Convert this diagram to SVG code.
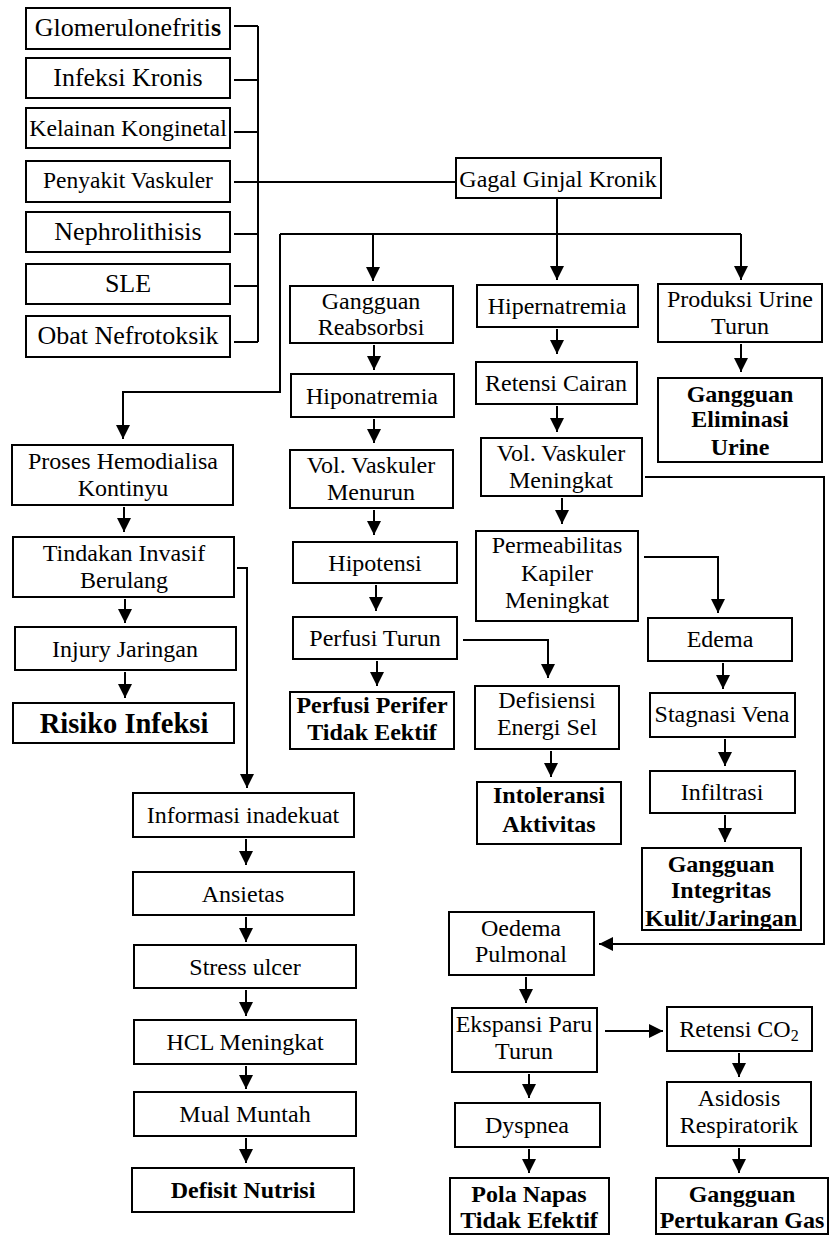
<svg xmlns="http://www.w3.org/2000/svg" width="832" height="1236" viewBox="0 0 832 1236">
<style>
.box{fill:#fff;stroke:#000;stroke-width:2}
.t{font-family:"Liberation Serif","Times New Roman",serif;font-size:24px;text-anchor:middle;fill:#000}
.l{font-size:26px}
.b{font-weight:bold}
.c{stroke:#000;stroke-width:2;fill:none}
.a{stroke:#000;stroke-width:2;fill:none;marker-end:url(#ah)}
</style>
<defs>
<marker id="ah" markerUnits="userSpaceOnUse" markerWidth="14" markerHeight="14" refX="14" refY="7" orient="auto">
<path d="M0,0 L14,7 L0,14 z" fill="#000"/>
</marker>
</defs>
<rect width="832" height="1236" fill="#fff"/>
<g id="connectors">
<path class="c" d="M234,26 H258 M234,80 H258 M234,132 H258 M234,182 H258 M234,234 H258 M234,286 H258 M234,342 H258 M258,26 V342 M258,182 H456"/>
<path class="a" d="M557,198 V280"/>
<path class="c" d="M280,234 H741"/>
<path class="a" d="M741,234 V280"/>
<path class="a" d="M373,234 V281"/>
<path class="a" d="M280,234 V392 H123 V439"/>
<path class="a" d="M374,345 V370"/>
<path class="a" d="M374,419 V443"/>
<path class="a" d="M374,510 V535"/>
<path class="a" d="M376,585 V611"/>
<path class="a" d="M377,661 V686"/>
<path class="a" d="M463,640 H548 V678"/>
<path class="a" d="M557,329 V354"/>
<path class="a" d="M557,406 V432"/>
<path class="a" d="M562,498 V524"/>
<path class="a" d="M644,557 H718 V613"/>
<path class="a" d="M723,663 V689"/>
<path class="a" d="M725,739 V766"/>
<path class="a" d="M725,815 V842"/>
<path class="a" d="M551,751 V777"/>
<path class="a" d="M741,344 V372"/>
<path class="a" d="M645,477 H824 V944 H599"/>
<path class="a" d="M526,977 V1003"/>
<path class="a" d="M605,1031 H663"/>
<path class="a" d="M739,1053 V1077"/>
<path class="a" d="M739,1148 V1173"/>
<path class="a" d="M529,1074 V1098"/>
<path class="a" d="M529,1149 V1173"/>
<path class="a" d="M124,507 V532"/>
<path class="a" d="M125,599 V623"/>
<path class="a" d="M125,672 V698"/>
<path class="a" d="M237,568 H247 V788"/>
<path class="a" d="M246,839 V865"/>
<path class="a" d="M246,917 V942"/>
<path class="a" d="M246,990 V1016"/>
<path class="a" d="M246,1066 V1089"/>
<path class="a" d="M246,1138 V1163"/>
</g>
<g id="n-glomerulonefritis"><rect class="box" x="26" y="8" width="204" height="41"/><text class="t l" x="128" y="36">Glomerulonefriti<tspan class="b">s</tspan></text></g>
<g id="n-infeksi-kronis"><rect class="box" x="26" y="58" width="204" height="40"/><text class="t l" x="128" y="86">Infeksi Kronis</text></g>
<g id="n-kelainan"><rect class="box" x="26" y="108" width="204" height="40"/><text class="t" style="font-size:23.8px" x="128" y="136">Kelainan Konginetal</text></g>
<g id="n-penyakit-vaskuler"><rect class="box" x="26" y="161" width="204" height="41"/><text class="t" style="font-size:23.5px" x="128" y="188">Penyakit Vaskuler</text></g>
<g id="n-nephrolithisis"><rect class="box" x="26" y="212" width="204" height="40"/><text class="t l" x="128" y="240">Nephrolithisis</text></g>
<g id="n-sle"><rect class="box" x="26" y="264" width="204" height="40"/><text class="t l" x="128" y="292">SLE</text></g>
<g id="n-obat"><rect class="box" x="26" y="316" width="204" height="41"/><text class="t l" x="128" y="344">Obat Nefrotoksik</text></g>
<g id="n-ggk"><rect class="box" x="456" y="158" width="205" height="40"/><text class="t" x="558" y="187">Gagal Ginjal Kronik</text></g>
<g id="n-gangguan-reabsorbsi"><rect class="box" x="290" y="286" width="163" height="57"/><text class="t" x="371" y="309">Gangguan</text><text class="t" x="371" y="335">Reabsorbsi</text></g>
<g id="n-hiponatremia"><rect class="box" x="291" y="374" width="163" height="43"/><text class="t" x="372" y="404">Hiponatremia</text></g>
<g id="n-vol-menurun"><rect class="box" x="290" y="450" width="163" height="58"/><text class="t" x="371" y="473">Vol. Vaskuler</text><text class="t" x="371" y="500">Menurun</text></g>
<g id="n-hipotensi"><rect class="box" x="293" y="542" width="164" height="41"/><text class="t" x="375" y="571">Hipotensi</text></g>
<g id="n-perfusi-turun"><rect class="box" x="293" y="617" width="164" height="42"/><text class="t" x="375" y="646">Perfusi Turun</text></g>
<g id="n-perfusi-perifer"><rect class="box" x="290" y="692" width="164" height="57"/><text class="t b" x="372" y="713">Perfusi Perifer</text><text class="t b" x="372" y="740">Tidak Eektif</text></g>
<g id="n-hipernatremia"><rect class="box" x="477" y="285" width="161" height="42"/><text class="t" x="557" y="314">Hipernatremia</text></g>
<g id="n-retensi-cairan"><rect class="box" x="476" y="362" width="161" height="42"/><text class="t" x="556" y="391">Retensi Cairan</text></g>
<g id="n-vol-meningkat"><rect class="box" x="481" y="438" width="161" height="58"/><text class="t" x="561" y="461">Vol. Vaskuler</text><text class="t" x="561" y="488">Meningkat</text></g>
<g id="n-permeabilitas"><rect class="box" x="476" y="531" width="162" height="90"/><text class="t" x="557" y="553">Permeabilitas</text><text class="t" x="557" y="581">Kapiler</text><text class="t" x="557" y="608">Meningkat</text></g>
<g id="n-edema"><rect class="box" x="648" y="618" width="144" height="43"/><text class="t" x="720" y="647">Edema</text></g>
<g id="n-stagnasi"><rect class="box" x="650" y="693" width="145" height="44"/><text class="t" x="722" y="722">Stagnasi Vena</text></g>
<g id="n-infiltrasi"><rect class="box" x="650" y="771" width="145" height="42"/><text class="t" x="722" y="800">Infiltrasi</text></g>
<g id="n-integritas"><rect class="box" x="642" y="848" width="159" height="82"/><text class="t b" x="721" y="872">Gangguan</text><text class="t b" x="721" y="898">Integritas</text><text class="t b" x="721" y="926">Kulit/Jaringan</text></g>
<g id="n-defisiensi"><rect class="box" x="475" y="686" width="144" height="63"/><text class="t" x="547" y="708">Defisiensi</text><text class="t" x="547" y="735">Energi Sel</text></g>
<g id="n-intoleransi"><rect class="box" x="477" y="782" width="144" height="62"/><text class="t b" x="549" y="803">Intoleransi</text><text class="t b" x="549" y="832">Aktivitas</text></g>
<g id="n-produksi-urine"><rect class="box" x="658" y="284" width="164" height="58"/><text class="t" x="740" y="307">Produksi Urine</text><text class="t" x="740" y="334">Turun</text></g>
<g id="n-eliminasi"><rect class="box" x="658" y="378" width="164" height="84"/><text class="t b" x="740" y="402">Gangguan</text><text class="t b" x="740" y="427">Eliminasi</text><text class="t b" x="740" y="455">Urine</text></g>
<g id="n-oedema-pulmonal"><rect class="box" x="449" y="912" width="145" height="63"/><text class="t" x="521" y="936">Oedema</text><text class="t" x="521" y="962">Pulmonal</text></g>
<g id="n-ekspansi"><rect class="box" x="452" y="1008" width="145" height="64"/><text class="t" x="524" y="1032">Ekspansi Paru</text><text class="t" x="524" y="1059">Turun</text></g>
<g id="n-retensi-co2"><rect class="box" x="667" y="1007" width="145" height="44"/><text class="t" x="739" y="1037">Retensi CO<tspan style="font-size:16px" dy="4">2</tspan></text></g>
<g id="n-asidosis"><rect class="box" x="667" y="1082" width="144" height="64"/><text class="t" x="739" y="1106">Asidosis</text><text class="t" x="739" y="1133">Respiratorik</text></g>
<g id="n-pertukaran-gas"><rect class="box" x="656" y="1178" width="172" height="56"/><text class="t b" x="742" y="1202">Gangguan</text><text class="t b" x="742" y="1228">Pertukaran Gas</text></g>
<g id="n-dyspnea"><rect class="box" x="455" y="1103" width="145" height="44"/><text class="t" x="527" y="1133">Dyspnea</text></g>
<g id="n-pola-napas"><rect class="box" x="450" y="1178" width="159" height="56"/><text class="t b" x="529" y="1202">Pola Napas</text><text class="t b" x="529" y="1228">Tidak Efektif</text></g>
<g id="n-hemodialisa"><rect class="box" x="12" y="445" width="221" height="60"/><text class="t" x="123" y="469">Proses Hemodialisa</text><text class="t" x="123" y="496">Kontinyu</text></g>
<g id="n-tindakan"><rect class="box" x="13" y="537" width="221" height="60"/><text class="t" x="124" y="561">Tindakan Invasif</text><text class="t" x="124" y="588">Berulang</text></g>
<g id="n-injury"><rect class="box" x="15" y="627" width="221" height="43"/><text class="t" x="125" y="657">Injury Jaringan</text></g>
<g id="n-risiko-infeksi"><rect class="box" x="13" y="703" width="221" height="40"/><text class="t b" style="font-size:28.5px" x="124" y="733">Risiko Infeksi</text></g>
<g id="n-informasi"><rect class="box" x="133" y="793" width="221" height="44"/><text class="t" x="243" y="823">Informasi inadekuat</text></g>
<g id="n-ansietas"><rect class="box" x="133" y="872" width="221" height="43"/><text class="t" x="243" y="902">Ansietas</text></g>
<g id="n-stress"><rect class="box" x="134" y="945" width="222" height="43"/><text class="t" x="245" y="975">Stress ulcer</text></g>
<g id="n-hcl"><rect class="box" x="134" y="1020" width="222" height="44"/><text class="t" x="245" y="1050">HCL Meningkat</text></g>
<g id="n-mual"><rect class="box" x="134" y="1092" width="222" height="44"/><text class="t" x="245" y="1122">Mual Muntah</text></g>
<g id="n-defisit-nutrisi"><rect class="box" x="132" y="1168" width="222" height="44"/><text class="t b" x="243" y="1198">Defisit Nutrisi</text></g>
</svg>
